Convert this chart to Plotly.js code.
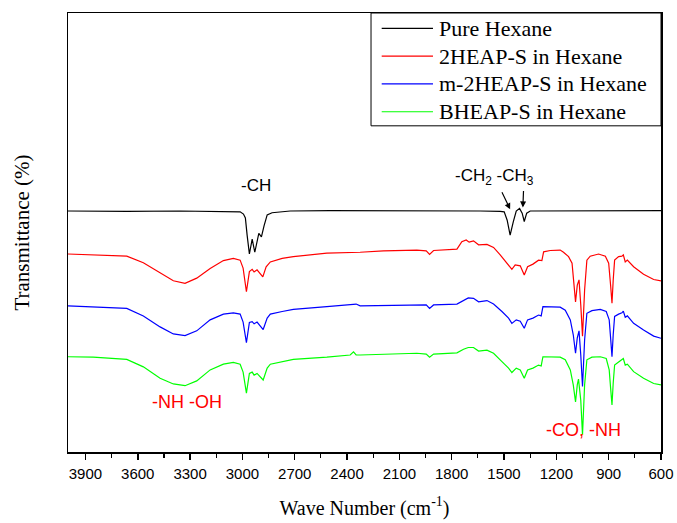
<!DOCTYPE html>
<html>
<head>
<meta charset="utf-8">
<script src="https://cdn.plot.ly/plotly-3.0.1.min.js"></script>
<style>
  html, body { margin: 0; padding: 0; background: #fff; }
  #chart { width: 677px; height: 523px; }
</style>
</head>
<body>
<div id="chart"></div>
<script>
// FTIR spectra: wave number (cm-1) and offset transmittance (arb. %)
const seriesNames = ['Pure Hexane', '2HEAP-S in Hexane', 'm-2HEAP-S in Hexane', 'BHEAP-S in Hexane'];
const seriesColors = ['#000000', '#ff0000', '#0000ff', '#00ff00'];

const hexaneWn = [4000, 3663, 3358, 3071, 3013, 2994, 2983, 2973, 2960, 2944, 2929, 2906, 2891, 2876, 2858, 2830,
  2726, 2497, 2210, 1923, 1637, 1522, 1499, 1482, 1465, 1447, 1430, 1411, 1396, 1384, 1370, 1350, 1178, 948, 776, 600];
const hexaneT = [54.9, 54.8, 54.9, 54.8, 54.7, 54.2, 53.3, 49.4, 45.1, 48.5, 45.5, 49.8, 49.0, 51.5, 54.0, 54.5,
  54.9, 55.0, 55.0, 54.9, 54.9, 54.8, 54.7, 52.8, 49.4, 52.4, 54.9, 55.5, 54.4, 52.5, 54.4, 54.9, 54.9, 55.0, 55.0, 55.0];

const heapWn = [4000, 3855, 3663, 3568, 3472, 3396, 3329, 3262, 3185, 3109, 3052, 3013, 2996, 2977, 2960, 2944, 2933,
  2916, 2883, 2864, 2840, 2772, 2708, 2516, 2325, 2191, 2000, 1946, 1927, 1904, 1770, 1742, 1717, 1700, 1675, 1646,
  1598, 1560, 1522, 1483, 1455, 1436, 1407, 1384, 1365, 1334, 1302, 1283, 1273, 1235, 1178, 1159, 1130, 1110, 1100,
  1090, 1080, 1070, 1060, 1050, 1038, 1025, 1006, 958, 919, 900, 889, 881, 874, 866, 843, 824, 816, 805, 793, 757,
  700, 642, 600];
const heapT = [45.1, 44.9, 44.6, 43.1, 40.7, 39.0, 38.4, 39.6, 41.8, 43.6, 44.1, 43.7, 41.9, 36.5, 41.1, 41.6, 41.0,
  41.5, 39.9, 42.2, 43.3, 44.1, 44.5, 45.3, 45.5, 45.8, 46.0, 45.8, 45.0, 45.9, 46.2, 47.9, 48.3, 47.8, 48.1, 47.2,
  47.3, 46.6, 44.9, 43.1, 41.6, 42.6, 42.4, 40.3, 42.2, 42.8, 43.7, 43.6, 45.6, 45.9, 46.0, 45.5, 44.5, 43.0, 39.2,
  34.2, 38.0, 39.2, 33.5, 26.4, 36.9, 43.7, 44.6, 45.1, 44.6, 43.0, 38.0, 33.9, 39.2, 43.7, 44.5, 44.6, 44.9, 43.3,
  43.7, 42.2, 40.5, 39.3, 39.0];

const mHeapWn = [4000, 3855, 3663, 3568, 3472, 3396, 3329, 3262, 3185, 3109, 3052, 3013, 2996, 2977, 2960, 2944, 2933,
  2916, 2881, 2858, 2840, 2772, 2708, 2516, 2363, 2348, 2325, 2000, 1946, 1927, 1904, 1770, 1732, 1705, 1675, 1646,
  1598, 1560, 1512, 1474, 1455, 1430, 1407, 1384, 1365, 1334, 1302, 1287, 1277, 1235, 1178, 1149, 1120, 1103, 1090,
  1080, 1070, 1060, 1050, 1038, 1025, 996, 948, 914, 897, 889, 881, 874, 866, 843, 824, 816, 805, 793, 757, 700,
  642, 600];
const mHeapT = [33.3, 33.1, 32.7, 31.0, 28.5, 26.9, 26.5, 27.6, 30.1, 31.4, 31.7, 31.4, 29.6, 24.9, 29.5, 29.7, 29.2,
  29.6, 27.9, 30.5, 31.4, 32.0, 32.5, 33.1, 33.5, 33.7, 33.3, 33.6, 33.5, 32.7, 33.5, 33.7, 34.6, 35.1, 35.0, 34.2,
  34.5, 33.7, 32.0, 30.5, 29.3, 30.1, 29.8, 28.2, 30.1, 30.5, 31.2, 31.0, 33.1, 33.1, 33.0, 32.3, 30.1, 26.7, 22.5,
  26.0, 27.6, 22.1, 14.9, 25.5, 31.6, 32.2, 32.5, 32.0, 30.1, 26.0, 21.7, 26.7, 30.9, 31.4, 31.7, 32.1, 30.7, 31.0,
  29.3, 27.8, 26.4, 25.9];

const bHeapWn = [4000, 3855, 3663, 3568, 3472, 3396, 3329, 3262, 3185, 3109, 3052, 3013, 2996, 2977, 2960, 2944, 2933,
  2916, 2881, 2858, 2840, 2772, 2708, 2516, 2382, 2363, 2348, 2325, 2000, 1946, 1927, 1904, 1770, 1732, 1705, 1675,
  1646, 1598, 1560, 1512, 1474, 1455, 1430, 1407, 1384, 1365, 1334, 1302, 1287, 1277, 1235, 1178, 1149, 1120, 1103,
  1090, 1080, 1073, 1060, 1050, 1038, 1025, 996, 948, 914, 897, 889, 881, 874, 866, 843, 824, 816, 805, 793, 757,
  700, 642, 600];
const bHeapT = [21.7, 21.6, 21.1, 19.4, 16.8, 15.5, 15.1, 16.2, 18.7, 20.0, 20.4, 20.0, 18.2, 13.4, 17.9, 18.2, 17.5,
  17.9, 16.4, 19.1, 20.0, 20.6, 21.1, 21.6, 22.1, 22.8, 22.1, 22.1, 22.5, 22.3, 21.6, 22.3, 22.6, 23.4, 23.8, 23.8,
  23.0, 23.2, 22.5, 20.6, 19.1, 18.1, 19.1, 18.7, 16.8, 18.7, 19.1, 19.8, 19.6, 21.7, 21.7, 21.6, 21.0, 18.7, 15.3,
  11.4, 15.3, 16.6, 11.8, 3.9, 15.3, 21.0, 21.6, 21.7, 21.3, 18.7, 14.6, 10.7, 15.7, 19.8, 20.5, 21.0, 21.3, 19.8,
  20.0, 18.3, 16.8, 15.6, 15.3];

const xTickVals = [3900, 3600, 3300, 3000, 2700, 2400, 2100, 1800, 1500, 1200, 900, 600];
const xTickText = xTickVals.map(String);

const wnSets = [hexaneWn, heapWn, mHeapWn, bHeapWn];
const tSets = [hexaneT, heapT, mHeapT, bHeapT];

const traces = wnSets.map((wn, i) => ({
  type: 'scatter',
  mode: 'lines',
  x: wn,
  y: tSets[i],
  name: seriesNames[i],
  line: { color: seriesColors[i], width: 1.2 },
  hoverinfo: 'skip',
  showlegend: false
}));

const sans = 'Liberation Sans, Arial, sans-serif';
const serif = 'Liberation Serif, Times New Roman, serif';

// Boxed key in the upper right corner (paper coordinates)
const keyBox = { x0: 0.511, x1: 1.0, y0: 0.743, y1: 1.0 };
const keyTop = 0.965, keyStep = 0.0633;
const keyLineX = [0.529, 0.6155], keyTextX = 0.623;

const keyShapes = [{
  type: 'rect', xref: 'paper', yref: 'paper',
  x0: keyBox.x0, x1: keyBox.x1, y0: keyBox.y0, y1: keyBox.y1,
  line: { color: '#000', width: 1 }, fillcolor: '#ffffff', layer: 'above'
}];
const keyNotes = [];
seriesNames.forEach((name, i) => {
  const yk = keyTop - i * keyStep;
  keyShapes.push({
    type: 'line', xref: 'paper', yref: 'paper',
    x0: keyLineX[0], x1: keyLineX[1], y0: yk, y1: yk,
    line: { color: seriesColors[i], width: 1.2 }, layer: 'above'
  });
  keyNotes.push({
    xref: 'paper', yref: 'paper', x: keyTextX, y: yk, xanchor: 'left', yanchor: 'middle',
    text: name, showarrow: false, font: { family: serif, size: 22, color: '#000' }
  });
});

const layout = {
  width: 677,
  height: 523,
  margin: { l: 68, r: 16, t: 13, b: 71 },
  paper_bgcolor: '#ffffff',
  plot_bgcolor: '#ffffff',
  showlegend: false,
  xaxis: {
    range: [4000, 600],
    tickvals: xTickVals,
    ticktext: xTickText,
    ticks: 'outside', ticklen: 6, tickwidth: 1.5, tickcolor: '#000',
    ticklabelstandoff: 1,
    minor: { dtick: 150, tick0: 600, ticks: 'outside', ticklen: 4, tickwidth: 1.2, tickcolor: '#000' },
    showline: true, linecolor: '#000', linewidth: 1.5, mirror: true,
    showgrid: false, zeroline: false,
    tickfont: { family: sans, size: 15, color: '#000' },
    title: { text: 'Wave Number (cm<sup>-1</sup>)', font: { family: serif, size: 20, color: '#000' }, standoff: 20 }
  },
  yaxis: {
    range: [0, 100],
    showticklabels: false, ticks: '',
    showline: true, linecolor: '#000', linewidth: 1.5, mirror: true,
    showgrid: false, zeroline: false,
    title: { text: 'Transmittance (%)', font: { family: serif, size: 21, color: '#000' }, standoff: 31 }
  },
  yaxis2: {
    range: [0, 100], overlaying: 'y', side: 'right',
    showticklabels: false, ticks: 'outside', ticklen: 4, tickwidth: 1, tickcolor: '#000',
    dtick: 3, tick0: 0, showgrid: false, zeroline: false, showline: false
  },
  shapes: keyShapes,
  annotations: [
    { x: 2922, y: 60.8, xref: 'x', yref: 'y', text: '-CH', showarrow: false,
      font: { family: sans, size: 17, color: '#000' } },
    { x: 1552, y: 62.6, xref: 'x', yref: 'y', text: '-CH<sub>2</sub> -CH<sub>3</sub>', showarrow: false,
      font: { family: sans, size: 17, color: '#000' } },
    { x: 1465, y: 55.3, ax: 1516, ay: 59.5, xref: 'x', yref: 'y', axref: 'x', ayref: 'y', text: '',
      showarrow: true, arrowhead: 2, arrowsize: 1, arrowwidth: 1.2, arrowcolor: '#000' },
    { x: 1392, y: 55.7, ax: 1388, ay: 59.8, xref: 'x', yref: 'y', axref: 'x', ayref: 'y', text: '',
      showarrow: true, arrowhead: 2, arrowsize: 1, arrowwidth: 1.2, arrowcolor: '#000' },
    { x: 3320, y: 11.5, xref: 'x', yref: 'y', text: '-NH -OH', showarrow: false,
      font: { family: sans, size: 18, color: '#ff0000' } },
    { x: 1044, y: 5.0, xref: 'x', yref: 'y', text: '-CO, -NH', showarrow: false,
      font: { family: sans, size: 18, color: '#ff0000' } }
  ].concat(keyNotes)
};

Plotly.newPlot('chart', traces, layout, { displayModeBar: false, staticPlot: true });
</script>
</body>
</html>
